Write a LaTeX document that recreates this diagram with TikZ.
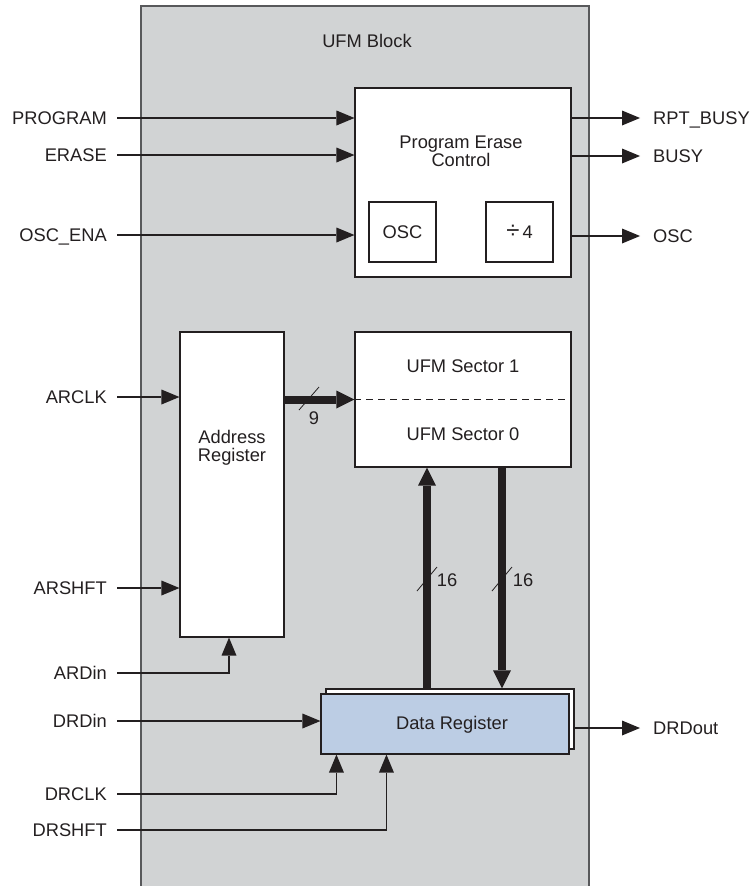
\documentclass[tikz,border=0pt]{standalone}
\usepackage{fontspec}
\setmainfont{Liberation Sans}
\usepackage{xcolor}
\definecolor{cBlock}{HTML}{D1D3D4}
\definecolor{cEdge}{HTML}{58595B}
\definecolor{cInk}{HTML}{231F20}
\definecolor{cReg}{HTML}{BCCDE4}
\usetikzlibrary{positioning,arrows.meta,calc}
\tikzset{
  sig-font/.style={font=\fontsize{18.3}{18}\selectfont,text=cInk},
  node-box/.style={draw=cInk,line width=1.1pt,fill=white,inner sep=0pt,
    sig-font,align=center},
  node-text/.style={sig-font,align=center,inner sep=0pt},
  sig-in/.style={sig-font,anchor=east,inner sep=0pt,inner xsep=10pt,
    text height=13pt,text depth=0pt},
  sig-out/.style={sig-font,anchor=west,inner sep=0pt,inner xsep=13pt,
    text height=13pt,text depth=0pt},
  wire/.style={draw=cInk,line width=1.1pt},
  arrow/.style={wire,-{Triangle[length=18pt,width=15pt,line width=0pt]}},
  bus/.style={draw=cInk,line width=8pt,
    -{Triangle[length=18pt,width=18pt,line width=0pt]}},
  bus-slash/.style={draw=cInk,line width=0.8pt},
  sector-split/.style={draw=cInk,line width=1pt,dash pattern=on 7pt off 5pt},
}

\begin{document}
\begin{tikzpicture}[x=1pt,y=-1pt]
  \useasboundingbox (0,0) rectangle (752,886);
  % UFM block
  \node[fill=cBlock,minimum width=448pt,minimum height=880pt,inner sep=0pt] (ufm) at (365,446) {};
  \draw[cEdge,line width=1.6pt] (ufm.south west) -- (ufm.north west) -- (ufm.north east) -- (ufm.south east);
  \node[node-text] (ufmt) at (367,41) {UFM Block};

  % program / erase control
  \node[node-box,minimum width=216pt,minimum height=189pt] (pec) at (463,182.5) {};
  \node[node-text] (pect) at (461,151) {Program Erase\\Control};
  \node[node-box,minimum width=67pt,minimum height=60pt] (osc) at (402.5,232) {OSC};
  \node[node-box,minimum width=67pt,minimum height=60pt] (div) at (519.5,232) {{\fontsize{24}{18}\selectfont ÷}\,4};

  % address register and sectors
  \node[node-box,minimum width=104pt,minimum height=305pt] (adr) at (232,484.5) {};
  \node[node-text] (adrt) at (232,448) {Address\\Register};
  \node[node-box,minimum width=216pt,minimum height=135pt] (sec) at (463,399.5) {};
  \node[node-text] (sec1) at (463,366) {UFM Sector 1};
  \node[node-text] (sec0) at (463,434) {UFM Sector 0};
  \draw[sector-split] (sec.west) -- (sec.east);

  % data register
  \node[node-box,minimum width=248pt,minimum height=60pt] (dregbk) at (450,719) {};
  \node[node-box,fill=cReg,minimum width=248pt,minimum height=60pt] (dreg) at (445,724) {};
  \node[node-text] (dregt) at (452,725) {Data Register};

  % inputs
  \node[sig-in] (program) at (117,118) {PROGRAM};
  \node[sig-in] (erase)   at (117,155) {ERASE};
  \node[sig-in] (oscena)  at (117,235) {OSC\_ENA};
  \node[sig-in] (arclk)   at (117,397) {ARCLK};
  \node[sig-in] (arshft)  at (117,588) {ARSHFT};
  \node[sig-in] (ardin)   at (117,673) {ARDin};
  \node[sig-in] (drdin)   at (117,721) {DRDin};
  \node[sig-in] (drclk)   at (117,794) {DRCLK};
  \node[sig-in] (drshft)  at (117,830) {DRSHFT};

  % outputs
  \node[sig-out] (rptbusy) at (640,118) {RPT\_BUSY};
  \node[sig-out] (busy)    at (640,156) {BUSY};
  \node[sig-out] (oscout)  at (640,236) {OSC};
  \node[sig-out] (drdout)  at (640,728) {DRDout};

  \draw[arrow] (program.east) -- (program.east -| pec.west);
  \draw[arrow] (erase.east)   -- (erase.east -| pec.west);
  \draw[arrow] (oscena.east)  -- (oscena.east -| pec.west);
  \draw[arrow] (arclk.east)   -- (arclk.east -| adr.west);
  \draw[arrow] (arshft.east)  -- (arshft.east -| adr.west);
  \draw[arrow] (ardin.east)   -| ([xshift=-3pt]adr.south);
  \draw[arrow] (drdin.east)   -- (drdin.east -| dreg.west);
  \draw[arrow] (drclk.east)   -| ([xshift=16pt]dreg.south west);
  \draw[arrow] (drshft.east)  -| ([xshift=66pt]dreg.south west);

  \draw[arrow] (rptbusy.west -| pec.east) -- (rptbusy.west);
  \draw[arrow] (busy.west -| pec.east)    -- (busy.west);
  \draw[arrow] (oscout.west -| pec.east)  -- (oscout.west);
  \draw[arrow] (drdout.west -| dregbk.east) -- (drdout.west);

  % buses
  \draw[bus] (adr.east |- sec.west) -- (sec.west);
  \draw[bus] ([xshift=-36pt]sec.south |- dregbk.north) -- ([xshift=-36pt]sec.south);
  \draw[bus] ([xshift=39pt]sec.south) -- ([xshift=39pt]sec.south |- dregbk.north);
  \draw[bus-slash] (309,399) ++(-10,11) -- ++(20,-23);
  \node[node-text] (w9) at (314,418) {9};
  \draw[bus-slash] (427,579) ++(-10,12) -- ++(20,-24);
  \node[node-text] (w16a) at (447,580) {16};
  \draw[bus-slash] (502,579) ++(-10,12) -- ++(20,-24);
  \node[node-text] (w16b) at (523,580) {16};
\end{tikzpicture}
\end{document}
